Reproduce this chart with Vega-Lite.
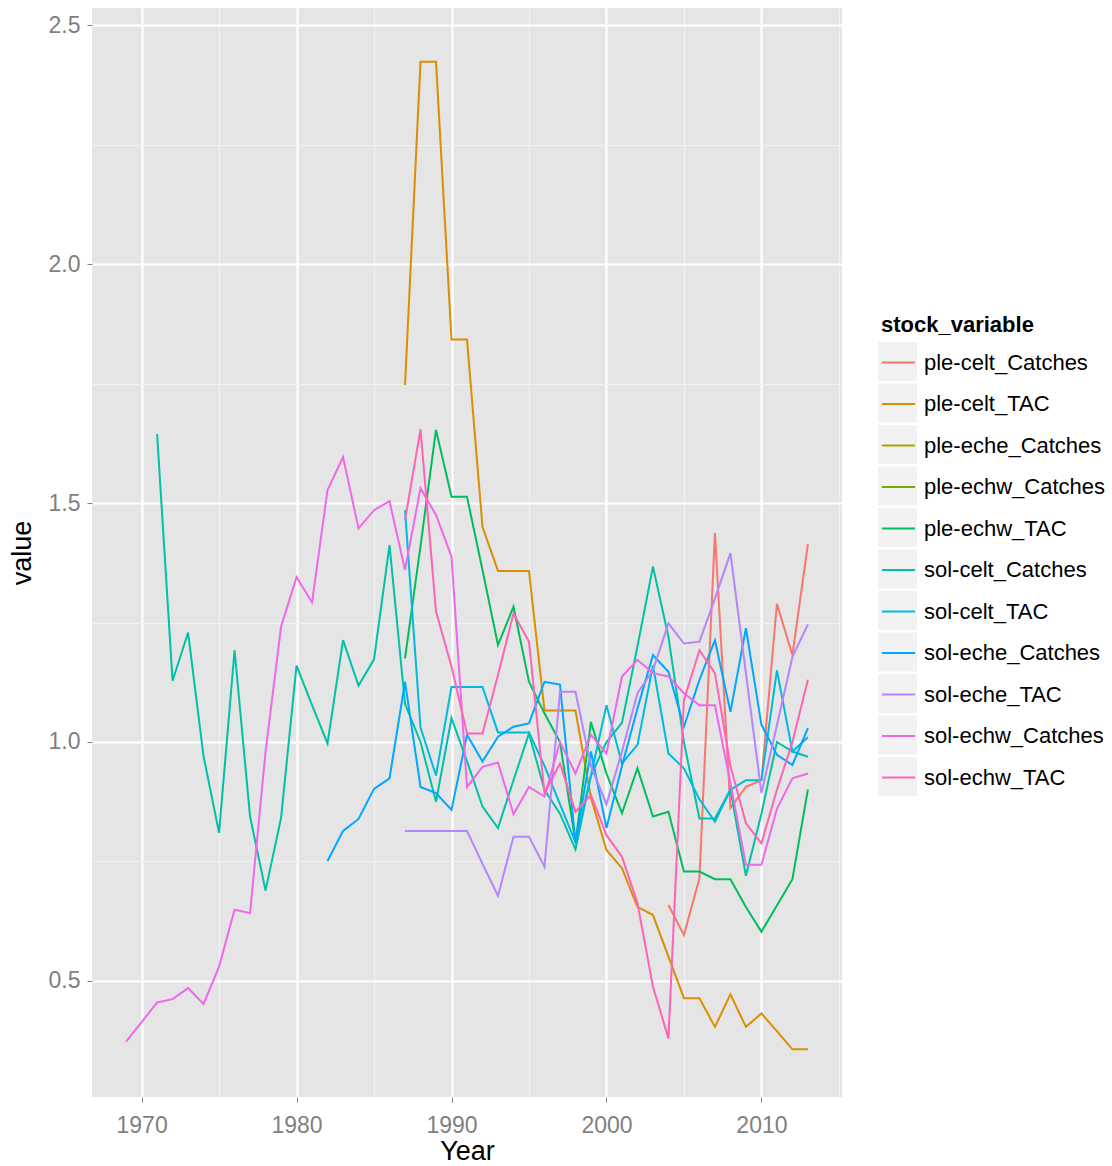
{
  "$schema": "https://vega.github.io/schema/vega-lite/v6.json",
  "autosize": {"type": "none"},
  "padding": {"left": 92, "top": 8, "right": 270, "bottom": 69},
  "width": 750,
  "height": 1089,
  "background": "white",
  "config": {
    "font": "Liberation Sans",
    "view": {"fill": "#E5E5E5", "stroke": null},
    "axis": {
      "domain": false,
      "labelFont": "Liberation Sans",
      "labelFontSize": 23,
      "labelColor": "#7F7F7F",
      "tickColor": "#7F7F7F",
      "tickSize": 5,
      "tickWidth": 1,
      "titleFont": "Liberation Sans",
      "titleFontSize": 27,
      "titleFontWeight": "normal",
      "titleColor": "black",
      "gridWidth": 2.2
    }
  },
  "data": {
    "values": [
      {"Year": 2004, "stock_variable": "ple-celt_Catches", "value": 0.659},
      {"Year": 2005, "stock_variable": "ple-celt_Catches", "value": 0.596},
      {"Year": 2006, "stock_variable": "ple-celt_Catches", "value": 0.715},
      {"Year": 2007, "stock_variable": "ple-celt_Catches", "value": 1.437},
      {"Year": 2008, "stock_variable": "ple-celt_Catches", "value": 0.862},
      {"Year": 2009, "stock_variable": "ple-celt_Catches", "value": 0.906},
      {"Year": 2010, "stock_variable": "ple-celt_Catches", "value": 0.92},
      {"Year": 2011, "stock_variable": "ple-celt_Catches", "value": 1.289},
      {"Year": 2012, "stock_variable": "ple-celt_Catches", "value": 1.182},
      {"Year": 2013, "stock_variable": "ple-celt_Catches", "value": 1.414},

      {"Year": 1987, "stock_variable": "ple-celt_TAC", "value": 1.747},
      {"Year": 1988, "stock_variable": "ple-celt_TAC", "value": 2.423},
      {"Year": 1989, "stock_variable": "ple-celt_TAC", "value": 2.423},
      {"Year": 1990, "stock_variable": "ple-celt_TAC", "value": 1.842},
      {"Year": 1991, "stock_variable": "ple-celt_TAC", "value": 1.842},
      {"Year": 1992, "stock_variable": "ple-celt_TAC", "value": 1.45},
      {"Year": 1993, "stock_variable": "ple-celt_TAC", "value": 1.358},
      {"Year": 1994, "stock_variable": "ple-celt_TAC", "value": 1.358},
      {"Year": 1995, "stock_variable": "ple-celt_TAC", "value": 1.358},
      {"Year": 1996, "stock_variable": "ple-celt_TAC", "value": 1.066},
      {"Year": 1997, "stock_variable": "ple-celt_TAC", "value": 1.066},
      {"Year": 1998, "stock_variable": "ple-celt_TAC", "value": 1.066},
      {"Year": 1999, "stock_variable": "ple-celt_TAC", "value": 0.883},
      {"Year": 2000, "stock_variable": "ple-celt_TAC", "value": 0.774},
      {"Year": 2001, "stock_variable": "ple-celt_TAC", "value": 0.736},
      {"Year": 2002, "stock_variable": "ple-celt_TAC", "value": 0.655},
      {"Year": 2003, "stock_variable": "ple-celt_TAC", "value": 0.638},
      {"Year": 2004, "stock_variable": "ple-celt_TAC", "value": 0.551},
      {"Year": 2005, "stock_variable": "ple-celt_TAC", "value": 0.464},
      {"Year": 2006, "stock_variable": "ple-celt_TAC", "value": 0.464},
      {"Year": 2007, "stock_variable": "ple-celt_TAC", "value": 0.404},
      {"Year": 2008, "stock_variable": "ple-celt_TAC", "value": 0.472},
      {"Year": 2009, "stock_variable": "ple-celt_TAC", "value": 0.404},
      {"Year": 2010, "stock_variable": "ple-celt_TAC", "value": 0.432},
      {"Year": 2011, "stock_variable": "ple-celt_TAC", "value": 0.395},
      {"Year": 2012, "stock_variable": "ple-celt_TAC", "value": 0.357},
      {"Year": 2013, "stock_variable": "ple-celt_TAC", "value": 0.357},

      {"Year": 1987, "stock_variable": "ple-echw_TAC", "value": 1.175},
      {"Year": 1988, "stock_variable": "ple-echw_TAC", "value": 1.41},
      {"Year": 1989, "stock_variable": "ple-echw_TAC", "value": 1.653},
      {"Year": 1990, "stock_variable": "ple-echw_TAC", "value": 1.513},
      {"Year": 1991, "stock_variable": "ple-echw_TAC", "value": 1.513},
      {"Year": 1992, "stock_variable": "ple-echw_TAC", "value": 1.36},
      {"Year": 1993, "stock_variable": "ple-echw_TAC", "value": 1.203},
      {"Year": 1994, "stock_variable": "ple-echw_TAC", "value": 1.283},
      {"Year": 1995, "stock_variable": "ple-echw_TAC", "value": 1.126},
      {"Year": 1996, "stock_variable": "ple-echw_TAC", "value": 1.06},
      {"Year": 1997, "stock_variable": "ple-echw_TAC", "value": 1.0},
      {"Year": 1998, "stock_variable": "ple-echw_TAC", "value": 0.79},
      {"Year": 1999, "stock_variable": "ple-echw_TAC", "value": 1.042},
      {"Year": 2000, "stock_variable": "ple-echw_TAC", "value": 0.934},
      {"Year": 2001, "stock_variable": "ple-echw_TAC", "value": 0.851},
      {"Year": 2002, "stock_variable": "ple-echw_TAC", "value": 0.945},
      {"Year": 2003, "stock_variable": "ple-echw_TAC", "value": 0.844},
      {"Year": 2004, "stock_variable": "ple-echw_TAC", "value": 0.854},
      {"Year": 2005, "stock_variable": "ple-echw_TAC", "value": 0.729},
      {"Year": 2006, "stock_variable": "ple-echw_TAC", "value": 0.729},
      {"Year": 2007, "stock_variable": "ple-echw_TAC", "value": 0.713},
      {"Year": 2008, "stock_variable": "ple-echw_TAC", "value": 0.713},
      {"Year": 2009, "stock_variable": "ple-echw_TAC", "value": 0.655},
      {"Year": 2010, "stock_variable": "ple-echw_TAC", "value": 0.603},
      {"Year": 2011, "stock_variable": "ple-echw_TAC", "value": 0.658},
      {"Year": 2012, "stock_variable": "ple-echw_TAC", "value": 0.713},
      {"Year": 2013, "stock_variable": "ple-echw_TAC", "value": 0.901},

      {"Year": 1971, "stock_variable": "sol-celt_Catches", "value": 1.644},
      {"Year": 1972, "stock_variable": "sol-celt_Catches", "value": 1.128},
      {"Year": 1973, "stock_variable": "sol-celt_Catches", "value": 1.229},
      {"Year": 1974, "stock_variable": "sol-celt_Catches", "value": 0.97},
      {"Year": 1975, "stock_variable": "sol-celt_Catches", "value": 0.81},
      {"Year": 1976, "stock_variable": "sol-celt_Catches", "value": 1.192},
      {"Year": 1977, "stock_variable": "sol-celt_Catches", "value": 0.844},
      {"Year": 1978, "stock_variable": "sol-celt_Catches", "value": 0.689},
      {"Year": 1979, "stock_variable": "sol-celt_Catches", "value": 0.841},
      {"Year": 1980, "stock_variable": "sol-celt_Catches", "value": 1.16},
      {"Year": 1981, "stock_variable": "sol-celt_Catches", "value": 1.077},
      {"Year": 1982, "stock_variable": "sol-celt_Catches", "value": 0.997},
      {"Year": 1983, "stock_variable": "sol-celt_Catches", "value": 1.213},
      {"Year": 1984, "stock_variable": "sol-celt_Catches", "value": 1.118},
      {"Year": 1985, "stock_variable": "sol-celt_Catches", "value": 1.173},
      {"Year": 1986, "stock_variable": "sol-celt_Catches", "value": 1.412},
      {"Year": 1987, "stock_variable": "sol-celt_Catches", "value": 1.08},
      {"Year": 1988, "stock_variable": "sol-celt_Catches", "value": 1.0},
      {"Year": 1989, "stock_variable": "sol-celt_Catches", "value": 0.875},
      {"Year": 1990, "stock_variable": "sol-celt_Catches", "value": 1.05},
      {"Year": 1991, "stock_variable": "sol-celt_Catches", "value": 0.96},
      {"Year": 1992, "stock_variable": "sol-celt_Catches", "value": 0.865},
      {"Year": 1993, "stock_variable": "sol-celt_Catches", "value": 0.82},
      {"Year": 1994, "stock_variable": "sol-celt_Catches", "value": 0.92},
      {"Year": 1995, "stock_variable": "sol-celt_Catches", "value": 1.018},
      {"Year": 1996, "stock_variable": "sol-celt_Catches", "value": 0.9},
      {"Year": 1997, "stock_variable": "sol-celt_Catches", "value": 0.85},
      {"Year": 1998, "stock_variable": "sol-celt_Catches", "value": 0.775},
      {"Year": 1999, "stock_variable": "sol-celt_Catches", "value": 0.93},
      {"Year": 2000, "stock_variable": "sol-celt_Catches", "value": 1.0},
      {"Year": 2001, "stock_variable": "sol-celt_Catches", "value": 1.04},
      {"Year": 2002, "stock_variable": "sol-celt_Catches", "value": 1.2},
      {"Year": 2003, "stock_variable": "sol-celt_Catches", "value": 1.367},
      {"Year": 2004, "stock_variable": "sol-celt_Catches", "value": 1.22},
      {"Year": 2005, "stock_variable": "sol-celt_Catches", "value": 1.0},
      {"Year": 2006, "stock_variable": "sol-celt_Catches", "value": 0.84},
      {"Year": 2007, "stock_variable": "sol-celt_Catches", "value": 0.84},
      {"Year": 2008, "stock_variable": "sol-celt_Catches", "value": 0.9},
      {"Year": 2009, "stock_variable": "sol-celt_Catches", "value": 0.72},
      {"Year": 2010, "stock_variable": "sol-celt_Catches", "value": 0.85},
      {"Year": 2011, "stock_variable": "sol-celt_Catches", "value": 1.0},
      {"Year": 2012, "stock_variable": "sol-celt_Catches", "value": 0.98},
      {"Year": 2013, "stock_variable": "sol-celt_Catches", "value": 0.969},

      {"Year": 1987, "stock_variable": "sol-celt_TAC", "value": 1.485},
      {"Year": 1988, "stock_variable": "sol-celt_TAC", "value": 1.03},
      {"Year": 1989, "stock_variable": "sol-celt_TAC", "value": 0.93},
      {"Year": 1990, "stock_variable": "sol-celt_TAC", "value": 1.115},
      {"Year": 1991, "stock_variable": "sol-celt_TAC", "value": 1.115},
      {"Year": 1992, "stock_variable": "sol-celt_TAC", "value": 1.115},
      {"Year": 1993, "stock_variable": "sol-celt_TAC", "value": 1.02},
      {"Year": 1994, "stock_variable": "sol-celt_TAC", "value": 1.02},
      {"Year": 1995, "stock_variable": "sol-celt_TAC", "value": 1.02},
      {"Year": 1996, "stock_variable": "sol-celt_TAC", "value": 0.95},
      {"Year": 1997, "stock_variable": "sol-celt_TAC", "value": 0.87},
      {"Year": 1998, "stock_variable": "sol-celt_TAC", "value": 0.79},
      {"Year": 1999, "stock_variable": "sol-celt_TAC", "value": 0.93},
      {"Year": 2000, "stock_variable": "sol-celt_TAC", "value": 1.077},
      {"Year": 2001, "stock_variable": "sol-celt_TAC", "value": 0.955},
      {"Year": 2002, "stock_variable": "sol-celt_TAC", "value": 0.994},
      {"Year": 2003, "stock_variable": "sol-celt_TAC", "value": 1.16},
      {"Year": 2004, "stock_variable": "sol-celt_TAC", "value": 0.976},
      {"Year": 2005, "stock_variable": "sol-celt_TAC", "value": 0.945},
      {"Year": 2006, "stock_variable": "sol-celt_TAC", "value": 0.88},
      {"Year": 2007, "stock_variable": "sol-celt_TAC", "value": 0.833},
      {"Year": 2008, "stock_variable": "sol-celt_TAC", "value": 0.9},
      {"Year": 2009, "stock_variable": "sol-celt_TAC", "value": 0.92},
      {"Year": 2010, "stock_variable": "sol-celt_TAC", "value": 0.92},
      {"Year": 2011, "stock_variable": "sol-celt_TAC", "value": 1.15},
      {"Year": 2012, "stock_variable": "sol-celt_TAC", "value": 0.98},
      {"Year": 2013, "stock_variable": "sol-celt_TAC", "value": 1.01},

      {"Year": 1982, "stock_variable": "sol-eche_Catches", "value": 0.751},
      {"Year": 1983, "stock_variable": "sol-eche_Catches", "value": 0.814},
      {"Year": 1984, "stock_variable": "sol-eche_Catches", "value": 0.839},
      {"Year": 1985, "stock_variable": "sol-eche_Catches", "value": 0.902},
      {"Year": 1986, "stock_variable": "sol-eche_Catches", "value": 0.924},
      {"Year": 1987, "stock_variable": "sol-eche_Catches", "value": 1.126},
      {"Year": 1988, "stock_variable": "sol-eche_Catches", "value": 0.906},
      {"Year": 1989, "stock_variable": "sol-eche_Catches", "value": 0.893},
      {"Year": 1990, "stock_variable": "sol-eche_Catches", "value": 0.858},
      {"Year": 1991, "stock_variable": "sol-eche_Catches", "value": 1.015},
      {"Year": 1992, "stock_variable": "sol-eche_Catches", "value": 0.959},
      {"Year": 1993, "stock_variable": "sol-eche_Catches", "value": 1.011},
      {"Year": 1994, "stock_variable": "sol-eche_Catches", "value": 1.032},
      {"Year": 1995, "stock_variable": "sol-eche_Catches", "value": 1.039},
      {"Year": 1996, "stock_variable": "sol-eche_Catches", "value": 1.126},
      {"Year": 1997, "stock_variable": "sol-eche_Catches", "value": 1.12},
      {"Year": 1998, "stock_variable": "sol-eche_Catches", "value": 0.79},
      {"Year": 1999, "stock_variable": "sol-eche_Catches", "value": 0.98},
      {"Year": 2000, "stock_variable": "sol-eche_Catches", "value": 0.82},
      {"Year": 2001, "stock_variable": "sol-eche_Catches", "value": 0.95},
      {"Year": 2002, "stock_variable": "sol-eche_Catches", "value": 1.07},
      {"Year": 2003, "stock_variable": "sol-eche_Catches", "value": 1.182},
      {"Year": 2004, "stock_variable": "sol-eche_Catches", "value": 1.147},
      {"Year": 2005, "stock_variable": "sol-eche_Catches", "value": 1.032},
      {"Year": 2006, "stock_variable": "sol-eche_Catches", "value": 1.13},
      {"Year": 2007, "stock_variable": "sol-eche_Catches", "value": 1.213},
      {"Year": 2008, "stock_variable": "sol-eche_Catches", "value": 1.063},
      {"Year": 2009, "stock_variable": "sol-eche_Catches", "value": 1.238},
      {"Year": 2010, "stock_variable": "sol-eche_Catches", "value": 1.036},
      {"Year": 2011, "stock_variable": "sol-eche_Catches", "value": 0.973},
      {"Year": 2012, "stock_variable": "sol-eche_Catches", "value": 0.952},
      {"Year": 2013, "stock_variable": "sol-eche_Catches", "value": 1.029},

      {"Year": 1987, "stock_variable": "sol-eche_TAC", "value": 0.814},
      {"Year": 1988, "stock_variable": "sol-eche_TAC", "value": 0.814},
      {"Year": 1989, "stock_variable": "sol-eche_TAC", "value": 0.814},
      {"Year": 1990, "stock_variable": "sol-eche_TAC", "value": 0.814},
      {"Year": 1991, "stock_variable": "sol-eche_TAC", "value": 0.814},
      {"Year": 1992, "stock_variable": "sol-eche_TAC", "value": 0.745},
      {"Year": 1993, "stock_variable": "sol-eche_TAC", "value": 0.678},
      {"Year": 1994, "stock_variable": "sol-eche_TAC", "value": 0.802},
      {"Year": 1995, "stock_variable": "sol-eche_TAC", "value": 0.802},
      {"Year": 1996, "stock_variable": "sol-eche_TAC", "value": 0.739},
      {"Year": 1997, "stock_variable": "sol-eche_TAC", "value": 1.105},
      {"Year": 1998, "stock_variable": "sol-eche_TAC", "value": 1.105},
      {"Year": 1999, "stock_variable": "sol-eche_TAC", "value": 0.95},
      {"Year": 2000, "stock_variable": "sol-eche_TAC", "value": 0.87},
      {"Year": 2001, "stock_variable": "sol-eche_TAC", "value": 0.98},
      {"Year": 2002, "stock_variable": "sol-eche_TAC", "value": 1.102},
      {"Year": 2003, "stock_variable": "sol-eche_TAC", "value": 1.15},
      {"Year": 2004, "stock_variable": "sol-eche_TAC", "value": 1.248},
      {"Year": 2005, "stock_variable": "sol-eche_TAC", "value": 1.206},
      {"Year": 2006, "stock_variable": "sol-eche_TAC", "value": 1.21},
      {"Year": 2007, "stock_variable": "sol-eche_TAC", "value": 1.30},
      {"Year": 2008, "stock_variable": "sol-eche_TAC", "value": 1.395},
      {"Year": 2009, "stock_variable": "sol-eche_TAC", "value": 1.144},
      {"Year": 2010, "stock_variable": "sol-eche_TAC", "value": 0.893},
      {"Year": 2011, "stock_variable": "sol-eche_TAC", "value": 1.035},
      {"Year": 2012, "stock_variable": "sol-eche_TAC", "value": 1.178},
      {"Year": 2013, "stock_variable": "sol-eche_TAC", "value": 1.246},

      {"Year": 1969, "stock_variable": "sol-echw_Catches", "value": 0.373},
      {"Year": 1970, "stock_variable": "sol-echw_Catches", "value": 0.414},
      {"Year": 1971, "stock_variable": "sol-echw_Catches", "value": 0.455},
      {"Year": 1972, "stock_variable": "sol-echw_Catches", "value": 0.462},
      {"Year": 1973, "stock_variable": "sol-echw_Catches", "value": 0.485},
      {"Year": 1974, "stock_variable": "sol-echw_Catches", "value": 0.452},
      {"Year": 1975, "stock_variable": "sol-echw_Catches", "value": 0.53},
      {"Year": 1976, "stock_variable": "sol-echw_Catches", "value": 0.649},
      {"Year": 1977, "stock_variable": "sol-echw_Catches", "value": 0.642},
      {"Year": 1978, "stock_variable": "sol-echw_Catches", "value": 0.98},
      {"Year": 1979, "stock_variable": "sol-echw_Catches", "value": 1.241},
      {"Year": 1980, "stock_variable": "sol-echw_Catches", "value": 1.345},
      {"Year": 1981, "stock_variable": "sol-echw_Catches", "value": 1.292},
      {"Year": 1982, "stock_variable": "sol-echw_Catches", "value": 1.527},
      {"Year": 1983, "stock_variable": "sol-echw_Catches", "value": 1.596},
      {"Year": 1984, "stock_variable": "sol-echw_Catches", "value": 1.447},
      {"Year": 1985, "stock_variable": "sol-echw_Catches", "value": 1.485},
      {"Year": 1986, "stock_variable": "sol-echw_Catches", "value": 1.504},
      {"Year": 1987, "stock_variable": "sol-echw_Catches", "value": 1.36},
      {"Year": 1988, "stock_variable": "sol-echw_Catches", "value": 1.531},
      {"Year": 1989, "stock_variable": "sol-echw_Catches", "value": 1.475},
      {"Year": 1990, "stock_variable": "sol-echw_Catches", "value": 1.388},
      {"Year": 1991, "stock_variable": "sol-echw_Catches", "value": 0.906},
      {"Year": 1992, "stock_variable": "sol-echw_Catches", "value": 0.948},
      {"Year": 1993, "stock_variable": "sol-echw_Catches", "value": 0.957},
      {"Year": 1994, "stock_variable": "sol-echw_Catches", "value": 0.849},
      {"Year": 1995, "stock_variable": "sol-echw_Catches", "value": 0.906},
      {"Year": 1996, "stock_variable": "sol-echw_Catches", "value": 0.886},
      {"Year": 1997, "stock_variable": "sol-echw_Catches", "value": 1.0},
      {"Year": 1998, "stock_variable": "sol-echw_Catches", "value": 0.934},
      {"Year": 1999, "stock_variable": "sol-echw_Catches", "value": 1.015},
      {"Year": 2000, "stock_variable": "sol-echw_Catches", "value": 0.976},
      {"Year": 2001, "stock_variable": "sol-echw_Catches", "value": 1.137},
      {"Year": 2002, "stock_variable": "sol-echw_Catches", "value": 1.172},
      {"Year": 2003, "stock_variable": "sol-echw_Catches", "value": 1.144},
      {"Year": 2004, "stock_variable": "sol-echw_Catches", "value": 1.137},
      {"Year": 2005, "stock_variable": "sol-echw_Catches", "value": 1.102},
      {"Year": 2006, "stock_variable": "sol-echw_Catches", "value": 1.077},
      {"Year": 2007, "stock_variable": "sol-echw_Catches", "value": 1.077},
      {"Year": 2008, "stock_variable": "sol-echw_Catches", "value": 0.914},
      {"Year": 2009, "stock_variable": "sol-echw_Catches", "value": 0.743},
      {"Year": 2010, "stock_variable": "sol-echw_Catches", "value": 0.743},
      {"Year": 2011, "stock_variable": "sol-echw_Catches", "value": 0.86},
      {"Year": 2012, "stock_variable": "sol-echw_Catches", "value": 0.924},
      {"Year": 2013, "stock_variable": "sol-echw_Catches", "value": 0.934},

      {"Year": 1987, "stock_variable": "sol-echw_TAC", "value": 1.464},
      {"Year": 1988, "stock_variable": "sol-echw_TAC", "value": 1.654},
      {"Year": 1989, "stock_variable": "sol-echw_TAC", "value": 1.273},
      {"Year": 1990, "stock_variable": "sol-echw_TAC", "value": 1.158},
      {"Year": 1991, "stock_variable": "sol-echw_TAC", "value": 1.018},
      {"Year": 1992, "stock_variable": "sol-echw_TAC", "value": 1.018},
      {"Year": 1993, "stock_variable": "sol-echw_TAC", "value": 1.14},
      {"Year": 1994, "stock_variable": "sol-echw_TAC", "value": 1.269},
      {"Year": 1995, "stock_variable": "sol-echw_TAC", "value": 1.21},
      {"Year": 1996, "stock_variable": "sol-echw_TAC", "value": 0.893},
      {"Year": 1997, "stock_variable": "sol-echw_TAC", "value": 0.955},
      {"Year": 1998, "stock_variable": "sol-echw_TAC", "value": 0.854},
      {"Year": 1999, "stock_variable": "sol-echw_TAC", "value": 0.889},
      {"Year": 2000, "stock_variable": "sol-echw_TAC", "value": 0.805},
      {"Year": 2001, "stock_variable": "sol-echw_TAC", "value": 0.76},
      {"Year": 2002, "stock_variable": "sol-echw_TAC", "value": 0.663},
      {"Year": 2003, "stock_variable": "sol-echw_TAC", "value": 0.488},
      {"Year": 2004, "stock_variable": "sol-echw_TAC", "value": 0.38},
      {"Year": 2005, "stock_variable": "sol-echw_TAC", "value": 1.088},
      {"Year": 2006, "stock_variable": "sol-echw_TAC", "value": 1.192},
      {"Year": 2007, "stock_variable": "sol-echw_TAC", "value": 1.144},
      {"Year": 2008, "stock_variable": "sol-echw_TAC", "value": 0.95},
      {"Year": 2009, "stock_variable": "sol-echw_TAC", "value": 0.83},
      {"Year": 2010, "stock_variable": "sol-echw_TAC", "value": 0.788},
      {"Year": 2011, "stock_variable": "sol-echw_TAC", "value": 0.9},
      {"Year": 2012, "stock_variable": "sol-echw_TAC", "value": 1.0},
      {"Year": 2013, "stock_variable": "sol-echw_TAC", "value": 1.13}
    ]
  },
  "layer": [
    {
      "mark": {"type": "point", "opacity": 0, "filled": true},
      "encoding": {
        "x": {"field": "Year", "type": "quantitative"},
        "y": {"field": "value", "type": "quantitative"},
        "fill": {
          "field": "stock_variable",
          "type": "nominal",
          "scale": {
            "domain": {"unionWith": ["ple-celt_Catches", "ple-celt_TAC", "ple-eche_Catches", "ple-echw_Catches", "ple-echw_TAC", "sol-celt_Catches", "sol-celt_TAC", "sol-eche_Catches", "sol-eche_TAC", "sol-echw_Catches", "sol-echw_TAC"]},
            "range": ["#F2F2F2"]
          },
          "legend": {
            "orient": "none",
            "legendX": 786,
            "legendY": 304,
            "zindex": 0,
            "title": " ",
            "titleFontSize": 22,
            "titleFontWeight": "bold",
            "titlePadding": 8,
            "symbolType": "square",
            "symbolSize": 1521,
            "symbolOpacity": 1,
            "symbolStrokeWidth": 0,
            "labelExpr": "''",
            "labelOpacity": 0,
            "labelFontSize": 22,
            "rowPadding": 2.5,
            "symbolOffset": 0
          }
        }
      }
    },
    {
      "mark": {"type": "line", "strokeWidth": 2, "clip": true},
      "encoding": {
        "x": {
          "field": "Year",
          "type": "quantitative",
          "title": "Year",
          "scale": {"domain": [1966.8, 2015.2], "nice": false, "zero": false},
          "axis": {
            "values": [1970, 1975, 1980, 1985, 1990, 1995, 2000, 2005, 2010, 2015],
            "format": "d",
            "labelExpr": "datum.value % 10 === 0 ? datum.label : ''",
            "gridColor": {"condition": {"test": "datum.value % 10 === 0", "value": "white"}, "value": "#F2F2F2"},
            "gridWidth": {"condition": {"test": "datum.value % 10 === 0", "value": 2.2}, "value": 1.1},
            "tickOpacity": {"condition": {"test": "datum.value % 10 === 0", "value": 1}, "value": 0},
            "labelPadding": 12,
            "titlePadding": 1
          }
        },
        "y": {
          "field": "value",
          "type": "quantitative",
          "title": "value",
          "scale": {"domain": [0.2573, 2.5356], "nice": false, "zero": false},
          "axis": {
            "values": [0.5, 0.75, 1, 1.25, 1.5, 1.75, 2, 2.25, 2.5],
            "labelExpr": "(datum.value * 2) % 1 === 0 ? format(datum.value, '.1f') : ''",
            "gridColor": {"condition": {"test": "(datum.value * 2) % 1 === 0", "value": "white"}, "value": "#F2F2F2"},
            "gridWidth": {"condition": {"test": "(datum.value * 2) % 1 === 0", "value": 2.2}, "value": 1.1},
            "tickOpacity": {"condition": {"test": "(datum.value * 2) % 1 === 0", "value": 1}, "value": 0},
            "labelPadding": 7,
            "titlePadding": 12
          }
        },
        "color": {
          "field": "stock_variable",
          "type": "nominal",
          "scale": {
            "domain": ["ple-celt_Catches", "ple-celt_TAC", "ple-eche_Catches", "ple-echw_Catches", "ple-echw_TAC", "sol-celt_Catches", "sol-celt_TAC", "sol-eche_Catches", "sol-eche_TAC", "sol-echw_Catches", "sol-echw_TAC"],
            "range": ["#F8766D", "#DB8E00", "#AEA200", "#64B200", "#00BD5C", "#00C1A7", "#00BADE", "#00A6FF", "#B385FF", "#EF67EB", "#FF63B6"]
          },
          "legend": {
            "orient": "none",
            "legendX": 789,
            "legendY": 307,
            "zindex": 1,
            "title": "stock_variable",
            "titleColor": "black",
            "titleFontSize": 22,
            "titleFontWeight": "bold",
            "titlePadding": 8,
            "symbolType": "stroke",
            "symbolSize": 1089,
            "symbolStrokeWidth": 2,
            "labelFontSize": 22,
            "labelColor": "black",
            "labelLimit": 300,
            "labelOffset": 8,
            "rowPadding": 12.5,
            "symbolOffset": 0
          }
        }
      }
    }
  ]
}
